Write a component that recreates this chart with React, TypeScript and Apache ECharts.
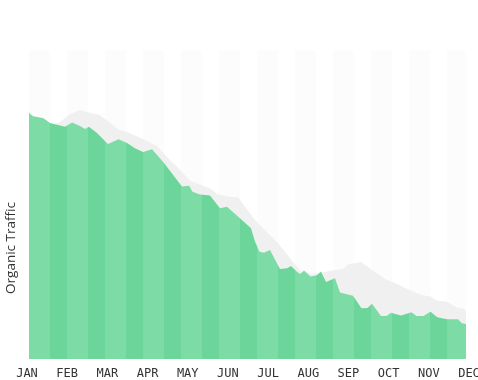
import { useEffect, useRef } from "react";
import * as echarts from "echarts";

const MONTHS = ["JAN", "FEB", "MAR", "APR", "MAY", "JUN", "JUL", "AUG", "SEP", "OCT", "NOV", "DEC"];

// Green (front) series: x in months (0 = JAN), y in % of plot height
const GREEN_X = [0.05, 0.149, 0.398, 0.498, 0.572, 0.722, 0.946, 1.12, 1.319, 1.443, 1.543, 1.742, 2.016, 2.277, 2.489, 2.688, 2.887, 3.111, 3.385, 3.857, 4.032, 4.119, 4.305, 4.554, 4.803, 4.977, 5.251, 5.575, 5.674, 5.786, 5.898, 6.047, 6.296, 6.471, 6.57, 6.72, 6.794, 6.894, 7.056, 7.217, 7.317, 7.441, 7.665, 7.79, 8.113, 8.325, 8.474, 8.586, 8.81, 8.947, 9.059, 9.308, 9.569, 9.693, 9.868, 10.042, 10.211, 10.46, 10.726, 10.826, 10.925];
const GREEN_Y = [79.7, 78.6, 78.0, 77.1, 76.4, 75.9, 75.2, 76.5, 75.4, 74.4, 75.2, 73.1, 69.6, 71.1, 69.9, 68.2, 67.0, 67.9, 63.8, 55.8, 56.1, 54.1, 53.2, 52.9, 48.8, 49.3, 46.1, 42.3, 38.0, 34.7, 34.4, 35.3, 29.1, 29.4, 30.1, 28.2, 27.5, 28.6, 26.7, 27.1, 28.3, 24.9, 26.1, 21.5, 20.5, 16.4, 16.5, 17.9, 13.9, 13.9, 15.0, 14.1, 15.1, 13.9, 13.9, 15.3, 13.5, 12.9, 12.9, 11.6, 11.3];

// Gray (back) series
const GRAY_X = [0.05, 0.572, 0.697, 0.821, 1.07, 1.319, 1.605, 1.817, 2.277, 2.489, 2.887, 3.235, 3.521, 3.857, 4.044, 4.33, 4.579, 4.753, 5.052, 5.251, 5.45, 5.674, 5.798, 6.246, 6.62, 6.831, 6.894, 7.068, 7.217, 7.317, 7.665, 7.864, 7.989, 8.312, 8.91, 9.233, 9.482, 9.805, 10.054, 10.191, 10.44, 10.689, 10.826, 10.925];
const GRAY_Y = [79.4, 76.2, 76.0, 76.7, 79.3, 80.6, 79.5, 79.0, 74.3, 73.5, 71.2, 68.9, 64.9, 60.6, 57.8, 56.3, 55.0, 53.2, 52.4, 52.4, 48.9, 45.0, 43.4, 37.5, 31.4, 28.2, 28.8, 27.5, 27.8, 28.0, 28.8, 29.1, 30.6, 31.4, 25.9, 24.2, 22.6, 20.7, 20.2, 18.9, 18.6, 16.7, 16.4, 15.5];

// Light band edges (months)
const BAND_START = [0.05, 0.995, 1.941, 2.887, 3.833, 4.778, 5.724, 6.67, 7.615, 8.561, 9.507, 10.452];
const BAND_END = [0.572, 1.518, 2.464, 3.41, 4.355, 5.301, 6.247, 7.192, 8.138, 9.084, 10.029, 10.925];

const GREEN_LIGHT = "#7ddca6";
const GREEN_DARK = "#6cd69a";

export default function App() {
  const ref = useRef<HTMLDivElement>(null);
  useEffect(() => {
    if (!ref.current) return;
    const chart = echarts.init(ref.current, null, { renderer: "svg" });
    const pieces: any[] = [];
    BAND_START.forEach((s, i) => {
      const e = BAND_END[i];
      pieces.push({ gte: s, lt: i === BAND_START.length - 1 ? 12 : e, color: GREEN_LIGHT });
      if (i < BAND_START.length - 1) {
        pieces.push({ gte: e, lt: BAND_START[i + 1], color: GREEN_DARK });
      }
    });
    pieces[0].gte = -1;
    chart.setOption({
      animation: false,
      grid: { left: 27, right: 9, top: 50, bottom: 21, outerBoundsMode: "none", containLabel: false },
      xAxis: {
        type: "value",
        min: 0,
        max: 11,
        interval: 1,
        axisLine: { show: false },
        axisTick: { show: false },
        splitLine: { show: false },
        axisLabel: {
          formatter: (v: number) => MONTHS[Math.round(v)],
          color: "#333",
          fontFamily: "DejaVu Sans Mono",
          fontSize: 12,
          margin: 8,
          showMinLabel: true,
          showMaxLabel: true,
        },
      },
      yAxis: { type: "value", min: 0, max: 100, show: false },
      visualMap: {
        type: "piecewise",
        show: false,
        dimension: 0,
        seriesIndex: 2,
        pieces,
      },
      graphic: [
        {
          type: "text",
          x: 9.5,
          y: 248,
          rotation: Math.PI / 2,
          style: {
            text: "Organic Traffic",
            fill: "#333",
            fontSize: 13.5,
            fontFamily: "Open Sans",
            align: "center",
            verticalAlign: "middle",
          },
        },
      ],
      series: [
        {
          type: "custom",
          silent: true,
          z: 1,
          data: BAND_START.map((s, i) => [s, BAND_END[i]]),
          encode: { x: [0, 1] },
          renderItem: (params: any, api: any) => {
            const a = api.coord([api.value(0), 0]);
            const b = api.coord([api.value(1), 0]);
            const cs = params.coordSys;
            return {
              type: "rect",
              shape: { x: a[0], y: cs.y, width: b[0] - a[0], height: cs.height },
              style: { fill: "#fcfcfc" },
            };
          },
        },
        {
          type: "line",
          z: 2,
          silent: true,
          symbol: "none",
          color: "#f0f0f0",
          lineStyle: { width: 0 },
          areaStyle: { color: "#f0f0f0", opacity: 1 },
          data: GRAY_X.map((x, i) => [x, GRAY_Y[i]]),
        },
        {
          type: "line",
          z: 3,
          silent: true,
          symbol: "none",
          lineStyle: { width: 0 },
          areaStyle: { opacity: 1 },
          data: GREEN_X.map((x, i) => [x, GREEN_Y[i]]),
        },
      ],
    });
    return () => chart.dispose();
  }, []);
  return (
    <div
      ref={ref}
      style={{ position: "fixed", left: 0, top: 0, width: 478, height: 380 }}
    />
  );
}
